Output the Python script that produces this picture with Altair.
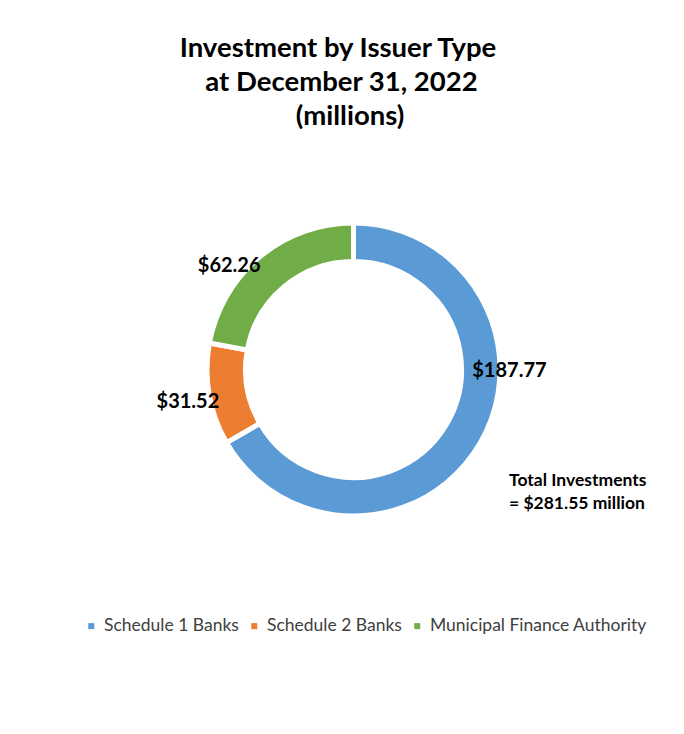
import math
import altair as alt
import pandas as pd

# ---- data ----
categories = ["Schedule 1 Banks", "Schedule 2 Banks", "Municipal Finance Authority"]
values = [187.77, 31.52, 62.26]
colors = ["#5B9BD5", "#ED7D31", "#70AD47"]
title_lines = ["Investment by Issuer Type", "at December 31, 2022", "(millions)"]
note_lines = ["Total Investments", "= $281.55 million"]

total = sum(values)
df = pd.DataFrame({"category": categories, "value": values,
                   "idx": list(range(len(categories)))})

CX, CY = 345.5, 361.5
FONT = "Lato"

theta_scale = alt.Scale(domain=[0, total], range=[0, 2 * math.pi], nice=False, zero=True)
color_scale = alt.Scale(domain=categories, range=colors)

base = alt.Chart(df).transform_window(
    cum="sum(value)", sort=[alt.SortField("idx")], frame=[None, 0]
).transform_calculate(
    start="datum.cum - datum.value",
    mid="datum.cum - datum.value / 2",
    label="'$' + format(datum.value, '.2f')",
)

arcs = base.mark_arc(innerRadius=108, outerRadius=146.5, stroke="white", strokeWidth=5).encode(
    theta=alt.Theta("start:Q", scale=theta_scale),
    theta2="cum:Q",
    color=alt.Color(
        "category:N", scale=color_scale, sort=categories,
        legend=alt.Legend(
            title=None, orient="none", direction="horizontal",
            legendX=74.5, legendY=609,
            symbolType="square", symbolSize=36, symbolStrokeWidth=0,
            labelFont=FONT, labelFontSize=17.5, labelColor="#404040",
            labelLimit=400, columnPadding=6, labelOffset=4, padding=0,
        ),
    ),
    x=alt.value(CX),
    y=alt.value(CY),
)


def label_layer(cat, r, dx, dy):
    return base.transform_filter(alt.datum.category == cat).mark_text(
        radius=r, dx=dx, dy=dy, font=FONT, fontSize=20, fontWeight="bold",
        color="black", align="center", baseline="middle",
    ).encode(
        theta=alt.Theta("mid:Q", scale=theta_scale),
        text="label:N",
        x=alt.value(CX),
        y=alt.value(CY),
    )


lab_blue = label_layer(categories[0], 127, 46, -62)
lab_orange = label_layer(categories[1], 168, 0, 4)
lab_green = label_layer(categories[2], 163, -20, 22)


def title_layer(i, xc, yb):
    return alt.Chart(pd.DataFrame({"t": [title_lines[i]]})).mark_text(
        font=FONT, fontSize=27.5, fontWeight="bold", color="black",
        align="center", baseline="alphabetic",
    ).encode(text="t:N", x=alt.value(xc), y=alt.value(yb))


t1 = title_layer(0, 330, 48.7)
t2 = title_layer(1, 333.5, 82.7)
t3 = title_layer(2, 342, 116.7)

note = alt.Chart(pd.DataFrame({"t": ["\n".join(note_lines)]})).mark_text(
    lineBreak="\n", font=FONT, fontSize=17.5, fontWeight="bold", color="black",
    align="left", baseline="alphabetic", lineHeight=22.5,
).encode(text="t:N", x=alt.value(501), y=alt.value(478))

chart = alt.layer(arcs, lab_blue, lab_orange, lab_green, t1, t2, t3, note).properties(
    width=668, height=718, autosize=alt.AutoSizeParams(type="none"), padding=0,
    background="white",
).configure_view(stroke=None)

chart.save("out.html", embed_options={"renderer": "svg", "actions": False})
